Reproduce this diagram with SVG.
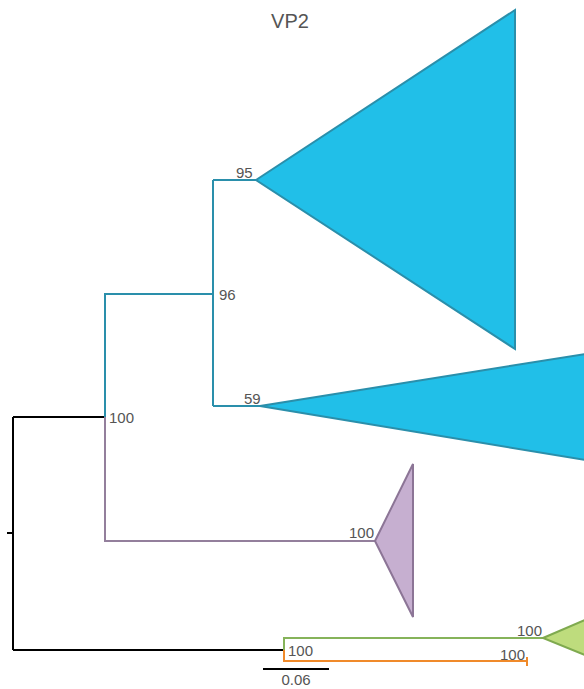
<svg xmlns="http://www.w3.org/2000/svg" width="584" height="689" viewBox="0 0 584 689">
<style>
.lbl{font-family:"Liberation Sans",Arial,sans-serif;font-size:15px;fill:#555}
.e{fill:none;stroke-width:2}
.blk{stroke:#000}
.teal{stroke:#2a8fab}
.pur{stroke:#937f9c}
.grn{stroke:#86b35a}
.org{stroke:#f08a2a}
</style>
<rect width="584" height="689" fill="#fff"/>
<text x="290" y="28" text-anchor="middle" style="font-family:'Liberation Sans',Arial,sans-serif;font-size:20px;fill:#555">VP2</text>
<g id="connectors">
<path class="e blk" d="M7,533H13M13,417V650M13,417H105M13,650H284"/>
<path class="e teal" d="M105,417V294H213M213,180V406M213,180H256M213,406H260"/>
<path class="e pur" d="M105,417V541H375"/>
<path class="e grn" d="M284,650V638H543"/>
<path class="e org" d="M284,650V661H527M527,657V666"/>
<path class="e blk" d="M263,669H329"/>
</g>
<g id="clade1"><polygon points="256,180 515,10 515,349" fill="#21bfe8" stroke="#2a8fab" stroke-width="2"/></g>
<g id="clade2"><polygon points="260,406 585,354 585,460" fill="#21bfe8" stroke="#2a8fab" stroke-width="2"/></g>
<g id="clade3"><polygon points="375,541 413,464 413,617" fill="#c6afd0" stroke="#8c7596" stroke-width="2"/></g>
<g id="clade4"><polygon points="543,638 585,620 585,655" fill="#bedc7d" stroke="#7faa4f" stroke-width="2"/></g>
<g id="labels">
<text class="lbl" x="236" y="178">95</text>
<text class="lbl" x="219" y="300">96</text>
<text class="lbl" x="244" y="404">59</text>
<text class="lbl" x="109" y="423">100</text>
<text class="lbl" x="349" y="538">100</text>
<text class="lbl" x="517" y="636">100</text>
<text class="lbl" x="288" y="656">100</text>
<text class="lbl" x="500" y="660">100</text>
<text class="lbl" x="296" y="685" text-anchor="middle">0.06</text>
</g>
</svg>
